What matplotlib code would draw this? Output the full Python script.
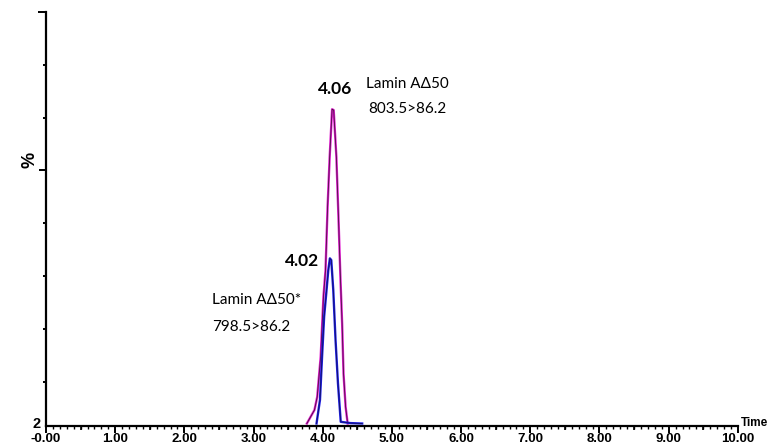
import numpy as np
import matplotlib
matplotlib.use('Agg')
from matplotlib import pyplot as plt
from matplotlib.ticker import MultipleLocator

#--------------------------------------------
# Chromatogram traces (time in min, intensity in %)
t_lamin = [3.77, 3.88, 3.92, 3.97, 4.01, 4.04, 4.07, 4.10, 4.135,
           4.158, 4.197, 4.23, 4.255, 4.28, 4.30, 4.33, 4.36]
i_lamin = [2.6, 5.8, 8.9, 18.4, 32.6, 38.9, 53.9, 65.7, 77.0,
           76.8, 65.7, 50.0, 37.3, 26.3, 14.5, 6.6, 2.6]
t_lamin_is = [3.91, 3.96, 3.99, 4.02, 4.055, 4.08, 4.103, 4.123, 4.152,
              4.185, 4.22, 4.26, 4.40, 4.57]
i_lamin_is = [2.6, 8.2, 18.4, 27.9, 34.2, 38.9, 41.7, 41.3, 34.2,
              22.3, 12.1, 3.0, 2.7, 2.6]

x_ticks = np.arange(0, 11)
x_labels = ['-0.00'] + ['{0:.2f}'.format(v) for v in x_ticks[1:]]
x_half_ticks = np.arange(0.5, 10, 1.0)
y_ticks = [100, 87.5, 75, 62.5, 50, 37.5, 25, 12.5]

#--------------------------------------------
# Main code
if __name__ == "__main__":
    fig = plt.figure(figsize = (7.67, 4.48), dpi = 100)
    ax = fig.add_axes([0.060, 0.049, 0.902, 0.924])
    # magenta trace with dark core
    ax.plot(t_lamin, i_lamin, color = '#e020d0', lw = 1.7)
    ax.plot(t_lamin, i_lamin, color = '#4a1040', lw = 0.6)
    # blue trace with dark core
    ax.plot(t_lamin_is, i_lamin_is, color = '#2020e8', lw = 1.7)
    ax.plot(t_lamin_is, i_lamin_is, color = '#101060', lw = 0.6)

    ax.set_xlim(0, 10)
    ax.set_ylim(2, 100)
    for side in ['top', 'right']:
        ax.spines[side].set_visible(False)
    for side in ['left', 'bottom']:
        ax.spines[side].set_linewidth(1.6)

    # x ticks
    ax.set_xticks(x_ticks)
    ax.set_xticklabels(x_labels, fontsize = 9.5, fontweight = 'bold',
                       family = 'Liberation Sans')
    ax.xaxis.set_minor_locator(MultipleLocator(0.1))
    ax.tick_params(axis = 'x', which = 'major', length = 5, width = 1.4, pad = 0)
    ax.tick_params(axis = 'x', which = 'minor', length = 2.5, width = 1.0)
    # medium ticks at the half minutes
    ax.vlines(x_half_ticks, 0, -0.010, transform = ax.get_xaxis_transform(),
              color = 'k', lw = 1.2, clip_on = False)
    # y ticks
    ax.set_yticks(y_ticks)
    ax.set_yticklabels([])
    ax.tick_params(axis = 'y', which = 'major', length = 2.5, width = 1.4)
    ax.yaxis.get_major_ticks()[0].tick1line.set_markersize(6)
    ax.yaxis.get_major_ticks()[3].tick1line.set_markersize(5)

    bold = dict(fontweight = 'bold', family = 'Liberation Sans')
    fig.text(37 / 767, 1 - 424 / 448, '2', fontsize = 10.5, ha = 'center',
             va = 'center', **bold)
    fig.text(30 / 767, 1 - 160 / 448, '%', fontsize = 13, ha = 'center',
             va = 'center', rotation = 90, **bold)
    fig.text(741 / 767, 1 - 423 / 448, 'Time', fontsize = 8.5, ha = 'left',
             va = 'center', **bold)

    # peak annotations
    lab = dict(family = 'Lato', fontsize = 11)
    fig.text(335 / 767, 1 - 89 / 448, '4.06', ha = 'center', va = 'center',
             fontsize = 12.5, fontweight = 'bold', family = 'Lato')
    fig.text(302 / 767, 1 - 261 / 448, '4.02', ha = 'center', va = 'center',
             fontsize = 12.5, fontweight = 'bold', family = 'Lato')
    fig.text(366 / 767, 1 - 84 / 448, 'Lamin A\u039450', ha = 'left',
             va = 'center', **lab)
    fig.text(368 / 767, 1 - 109 / 448, '803.5>86.2', ha = 'left',
             va = 'center', **lab)
    fig.text(212 / 767, 1 - 300 / 448, 'Lamin A\u039450*', ha = 'left',
             va = 'center', **lab)
    fig.text(212 / 767, 1 - 327 / 448, '798.5>86.2', ha = 'left',
             va = 'center', **lab)

    plt.savefig('out.png', dpi = 100)
